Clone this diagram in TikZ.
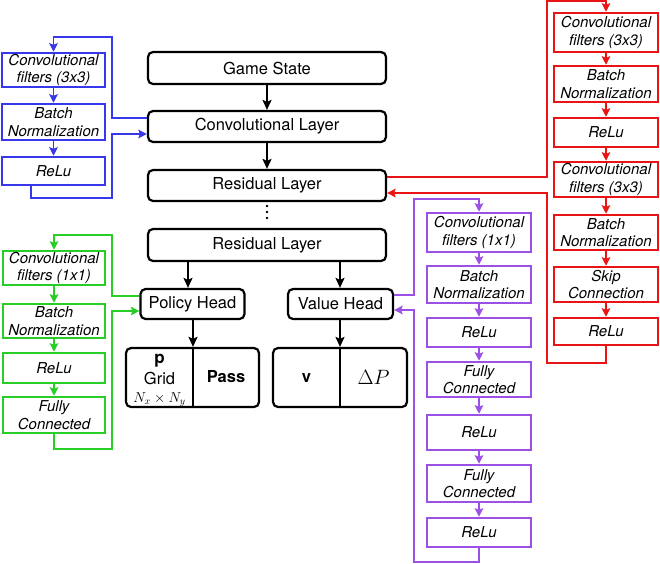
\documentclass[tikz,border=0pt]{standalone}
\usepackage{fontspec}
\setmainfont{TeX Gyre Heros}
\usetikzlibrary{arrows.meta}
\definecolor{cblue}{RGB}{55,55,235}
\definecolor{cred}{RGB}{235,20,20}
\definecolor{cgreen}{RGB}{40,205,40}
\definecolor{cpurple}{RGB}{155,80,230}
\tikzset{
  mainbox/.style={draw=black, line width=2.2pt, rounded corners=5pt, inner sep=0pt,
    font=\fontsize{16.5}{19}\selectfont},
  cbox/.style={draw=#1, line width=2.5pt, inner sep=0pt, align=center,
    font=\fontsize{15}{17.5}\selectfont\itshape},
  blk/.style={line width=2pt, -{Stealth[length=10pt,width=9pt,inset=2pt]}},
  carr/.style={draw=#1, line width=1.8pt, -{Stealth[length=8.5pt,width=8.5pt,inset=1.5pt]}, fill=#1},
  txt/.style={inner sep=0pt},
}
\begin{document}
\begin{tikzpicture}[x=1pt,y=-1pt]
\useasboundingbox (0,0) rectangle (660,563);
% main column
\node[mainbox, minimum width=238pt, minimum height=32pt] (gs) at (267,68) {Game State};
\node[mainbox, minimum width=238pt, minimum height=31pt] (cl) at (267,126.5) {Convolutional Layer};
\node[mainbox, minimum width=238pt, minimum height=31pt] (rl1) at (267,185.5) {Residual Layer};
\node[mainbox, minimum width=238pt, minimum height=32pt] (rl2) at (267,245) {Residual Layer};
\node[mainbox, minimum width=104pt, minimum height=30pt] (ph) at (192.5,304) {Policy Head};
\node[mainbox, minimum width=105pt, minimum height=30pt] (vh) at (340.5,304) {Value Head};
\node[mainbox, minimum width=133pt, minimum height=59pt] (o1) at (192.5,377.5) {};
\node[mainbox, minimum width=134pt, minimum height=59pt] (o2) at (340,377.5) {};
\draw[line width=2pt] (o1.north -| 193,0) -- (o1.south -| 193,0);
\draw[line width=2pt] (o2.north -| 340,0) -- (o2.south -| 340,0);
\node[txt, font=\fontsize{17}{19}\selectfont\bfseries] (pp) at (159.5,361) {p};
\node[txt, font=\fontsize{16.5}{19}\selectfont] (grid) at (159.5,378) {Grid};
\node[txt, font=\fontsize{14.5}{16}\selectfont] (nxy) at (159.5,399.5) {$N_x\times N_y$};
\node[txt, font=\fontsize{16.5}{19}\selectfont\bfseries] (pass) at (226,377) {Pass};
\node[txt, font=\fontsize{16.5}{19}\selectfont\bfseries] (v) at (306.5,378) {v};
\node[txt, font=\fontsize{20}{22}\selectfont] (dp) at (373.5,377) {$\Delta P$};
% dots
\foreach \yy in {206,212,218} \fill (267,\yy) circle (1.4pt);
% black arrows
\draw[blk] (gs) -- (cl);
\draw[blk] (cl) -- (rl1);
\draw[blk] (rl2.south -| 188,0) -- (ph.north -| 188,0);
\draw[blk] (rl2.south -| 340,0) -- (vh.north -| 340,0);
\draw[blk] (ph.south -| 193,0) -- (o1.north -| 193,0);
\draw[blk] (vh.south -| 340,0) -- (o2.north -| 340,0);
% blue block
\node[cbox=cblue, minimum width=103pt, minimum height=34pt] (bconv) at (53.5,70) {Convolutional\\filters (3x3)};
\node[cbox=cblue, minimum width=103pt, minimum height=36pt] (bbn) at (53.5,122) {Batch\\Normalization};
\node[cbox=cblue, minimum width=103pt, minimum height=28pt] (brelu) at (53.5,171) {ReLu};
\draw[carr=cblue] (bconv) -- (bbn);
\draw[carr=cblue] (bbn) -- (brelu);
\draw[carr=cblue, fill=none] (cl.west |- 0,118) -| (112,37) -| (bconv.north);
\draw[carr=cblue, fill=none] (brelu.south -| 31,0) -- (31,198) -| (112,134) -- (cl.west |- 0,134);
% green block
\node[cbox=cgreen, minimum width=102pt, minimum height=34pt] (gconv) at (54,268) {Convolutional\\filters (1x1)};
\node[cbox=cgreen, minimum width=102pt, minimum height=34pt] (gbn) at (54,321) {Batch\\Normalization};
\node[cbox=cgreen, minimum width=102pt, minimum height=30pt] (grelu) at (54,368) {ReLu};
\node[cbox=cgreen, minimum width=102pt, minimum height=36pt] (gfc) at (54,415) {Fully\\Connected};
\draw[carr=cgreen] (gconv) -- (gbn);
\draw[carr=cgreen] (gbn) -- (grelu);
\draw[carr=cgreen] (grelu) -- (gfc);
\draw[carr=cgreen, fill=none] (ph.west |- 0,296) -| (112,235) -| (gconv.north);
\draw[carr=cgreen, fill=none] (gfc.south) |- (112,449) -- (112,311) -- (ph.west |- 0,311);
% red block
\node[cbox=cred, minimum width=104pt, minimum height=39pt] (rc1) at (606,32.5) {Convolutional\\filters (3x3)};
\node[cbox=cred, minimum width=104pt, minimum height=36pt] (rbn1) at (606,84) {Batch\\Normalization};
\node[cbox=cred, minimum width=104pt, minimum height=29pt] (rr1) at (606,132.5) {ReLu};
\node[cbox=cred, minimum width=104pt, minimum height=35pt] (rc2) at (606,179.5) {Convolutional\\filters (3x3)};
\node[cbox=cred, minimum width=104pt, minimum height=35pt] (rbn2) at (606,232.5) {Batch\\Normalization};
\node[cbox=cred, minimum width=104pt, minimum height=35pt] (rskip) at (606,284.5) {Skip\\Connection};
\node[cbox=cred, minimum width=104pt, minimum height=27pt] (rr2) at (606,331.5) {ReLu};
\draw[carr=cred] (rc1) -- (rbn1);
\draw[carr=cred] (rbn1) -- (rr1);
\draw[carr=cred] (rr1) -- (rc2);
\draw[carr=cred] (rc2) -- (rbn2);
\draw[carr=cred] (rbn2) -- (rskip);
\draw[carr=cred] (rskip) -- (rr2);
\draw[carr=cred, fill=none] (rl1.east |- 0,177) -| (547,1) -| (rc1.north);
\draw[carr=cred, fill=none] (rr2.south) |- (547,363) -- (547,193) -- (rl1.east |- 0,193);
% purple block
\node[cbox=cpurple, minimum width=104pt, minimum height=39pt] (pconv) at (479,232.5) {Convolutional\\filters (1x1)};
\node[cbox=cpurple, minimum width=104pt, minimum height=37pt] (pbn) at (479,284.5) {Batch\\Normalization};
\node[cbox=cpurple, minimum width=104pt, minimum height=29pt] (pr1) at (479,332.5) {ReLu};
\node[cbox=cpurple, minimum width=104pt, minimum height=35pt] (pfc1) at (479,379.5) {Fully\\Connected};
\node[cbox=cpurple, minimum width=104pt, minimum height=35pt] (pr2) at (479,432.5) {ReLu};
\node[cbox=cpurple, minimum width=104pt, minimum height=37pt] (pfc2) at (479,483.5) {Fully\\Connected};
\node[cbox=cpurple, minimum width=104pt, minimum height=29pt] (pr3) at (479,532.5) {ReLu};
\draw[carr=cpurple] (pconv) -- (pbn);
\draw[carr=cpurple] (pbn) -- (pr1);
\draw[carr=cpurple] (pr1) -- (pfc1);
\draw[carr=cpurple] (pfc1) -- (pr2);
\draw[carr=cpurple] (pr2) -- (pfc2);
\draw[carr=cpurple] (pfc2) -- (pr3);
\draw[carr=cpurple, fill=none] (vh.east |- 0,295) -| (414,199) -| (pconv.north);
\draw[carr=cpurple, fill=none] (pr3.south) |- (414,562) -- (414,310) -- (vh.east |- 0,310);
\end{tikzpicture}
\end{document}
